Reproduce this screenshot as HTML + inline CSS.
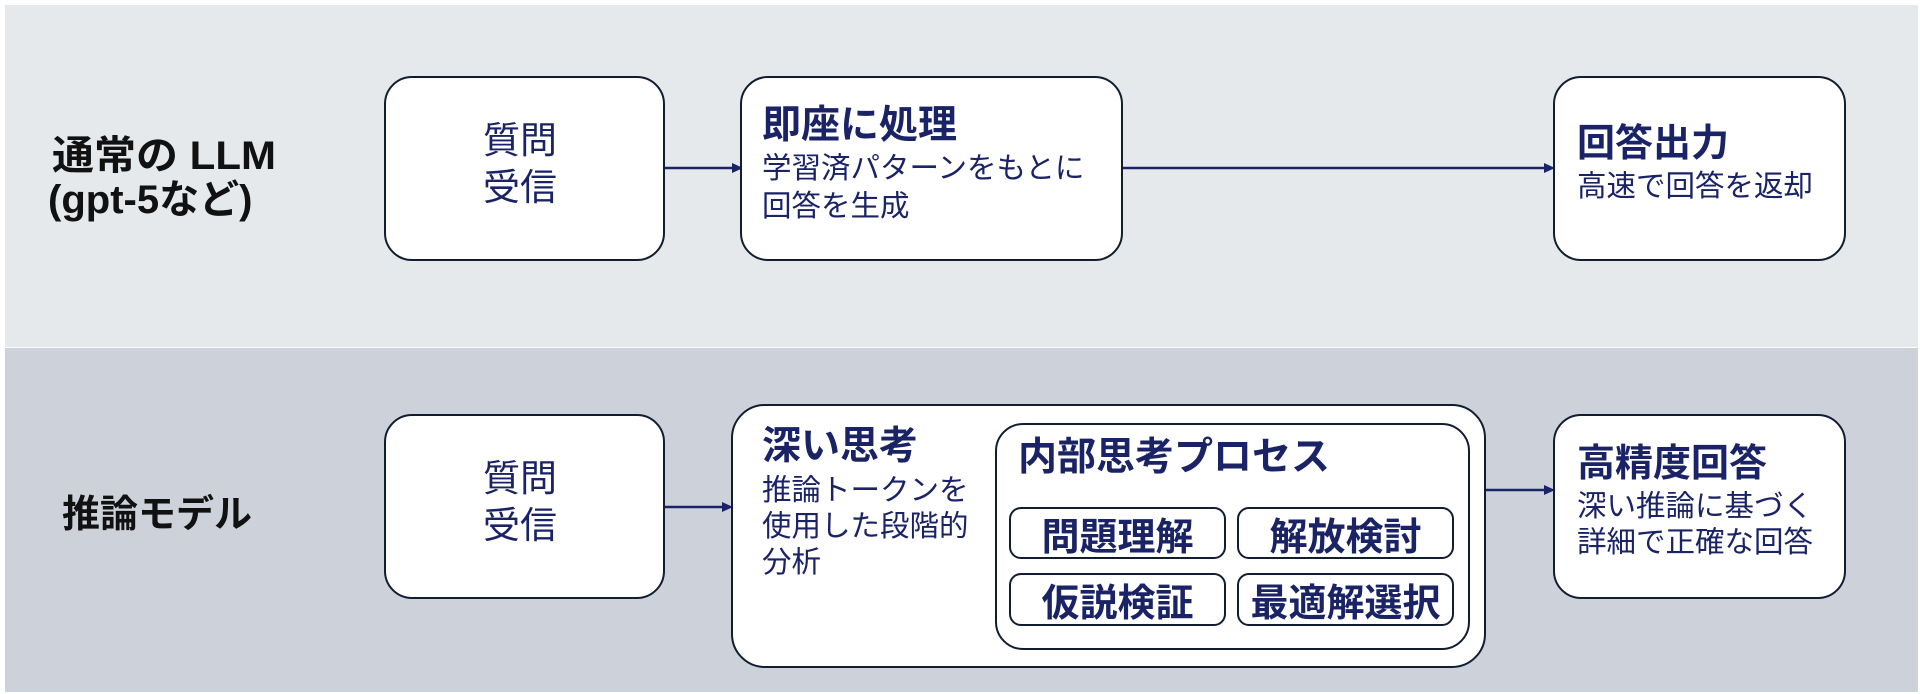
<!DOCTYPE html>
<html><head><meta charset="utf-8"><style>
*{margin:0;padding:0;box-sizing:border-box}
body{width:1920px;height:694px;background:#fff;position:relative;overflow:hidden;font-family:"Liberation Sans","Noto Sans CJK JP",sans-serif;color:#1a2366}
.band{position:absolute;left:5px;width:1913px}
.box{position:absolute;background:#fff;border:2.5px solid #111d30;border-radius:28px}
.t{position:absolute;white-space:nowrap;line-height:1}
.b{font-weight:bold}
.lbl{color:#111;font-weight:bold;font-size:40px}
.pill{position:absolute;border:2.5px solid #111d30;border-radius:12px;background:#fff;font-weight:bold;font-size:38px;display:flex;align-items:center;justify-content:center;color:#1a2366}
</style></head><body>
<div class="band" style="top:5px;height:342px;background:#e5e9ec"></div>
<div class="band" style="top:348px;height:344px;background:#cdd2da"></div>

<div class="t lbl" style="left:52px;top:136px;transform:scaleX(1.05);transform-origin:left">通常の LLM</div>
<div class="t lbl" style="left:48px;top:180px">(gpt-5など)</div>
<div class="t lbl" style="left:62px;top:496px;font-size:38px">推論モデル</div>

<svg width="1920" height="694" style="position:absolute;left:0;top:0">
<g stroke="#1a2366" stroke-width="2.5" fill="#1a2366">
<line x1="665" y1="168" x2="734" y2="168"/><polygon points="743,168 732,163 732,173" stroke="none"/>
<line x1="1123" y1="168" x2="1546" y2="168"/><polygon points="1555,168 1544,163 1544,173" stroke="none"/>
<line x1="665" y1="507" x2="724" y2="507"/><polygon points="733,507 722,502 722,512" stroke="none"/>
<line x1="1486" y1="490" x2="1546" y2="490"/><polygon points="1555,490 1544,485 1544,495" stroke="none"/>
</g></svg>

<div class="box" style="left:384px;top:76px;width:281px;height:185px"></div>
<div class="t" style="left:483px;top:122px;font-size:37px">質問</div>
<div class="t" style="left:483px;top:169px;font-size:37px">受信</div>

<div class="box" style="left:740px;top:76px;width:383px;height:185px"></div>
<div class="t b" style="left:762px;top:106px;font-size:39px">即座に処理</div>
<div class="t" style="left:762px;top:154px;font-size:29.5px">学習済パターンをもとに</div>
<div class="t" style="left:762px;top:192px;font-size:29.5px">回答を生成</div>

<div class="box" style="left:1553px;top:76px;width:293px;height:185px"></div>
<div class="t b" style="left:1577px;top:125px;font-size:38px">回答出力</div>
<div class="t" style="left:1577px;top:172px;font-size:29.5px">高速で回答を返却</div>

<div class="box" style="left:384px;top:414px;width:281px;height:185px"></div>
<div class="t" style="left:483px;top:460px;font-size:37px">質問</div>
<div class="t" style="left:483px;top:507px;font-size:37px">受信</div>

<div class="box" style="left:731px;top:404px;width:755px;height:264px;border-radius:34px"></div>
<div class="t b" style="left:762px;top:427px;font-size:39px">深い思考</div>
<div class="t" style="left:762px;top:476px;font-size:29.5px">推論トークンを</div>
<div class="t" style="left:762px;top:512px;font-size:29.5px">使用した段階的</div>
<div class="t" style="left:762px;top:548px;font-size:29.5px">分析</div>

<div class="box" style="left:995px;top:423px;width:475px;height:227px;border-radius:28px"></div>
<div class="t b" style="left:1018px;top:438px;font-size:39px">内部思考プロセス</div>
<div class="pill" style="left:1009px;top:507px;width:217px;height:52px">問題理解</div>
<div class="pill" style="left:1237px;top:507px;width:217px;height:52px">解放検討</div>
<div class="pill" style="left:1009px;top:573px;width:217px;height:53px">仮説検証</div>
<div class="pill" style="left:1237px;top:573px;width:217px;height:53px">最適解選択</div>

<div class="box" style="left:1553px;top:414px;width:293px;height:185px"></div>
<div class="t b" style="left:1577px;top:445px;font-size:38px">高精度回答</div>
<div class="t" style="left:1577px;top:492px;font-size:29.5px">深い推論に基づく</div>
<div class="t" style="left:1577px;top:528px;font-size:29.5px">詳細で正確な回答</div>
</body></html>
